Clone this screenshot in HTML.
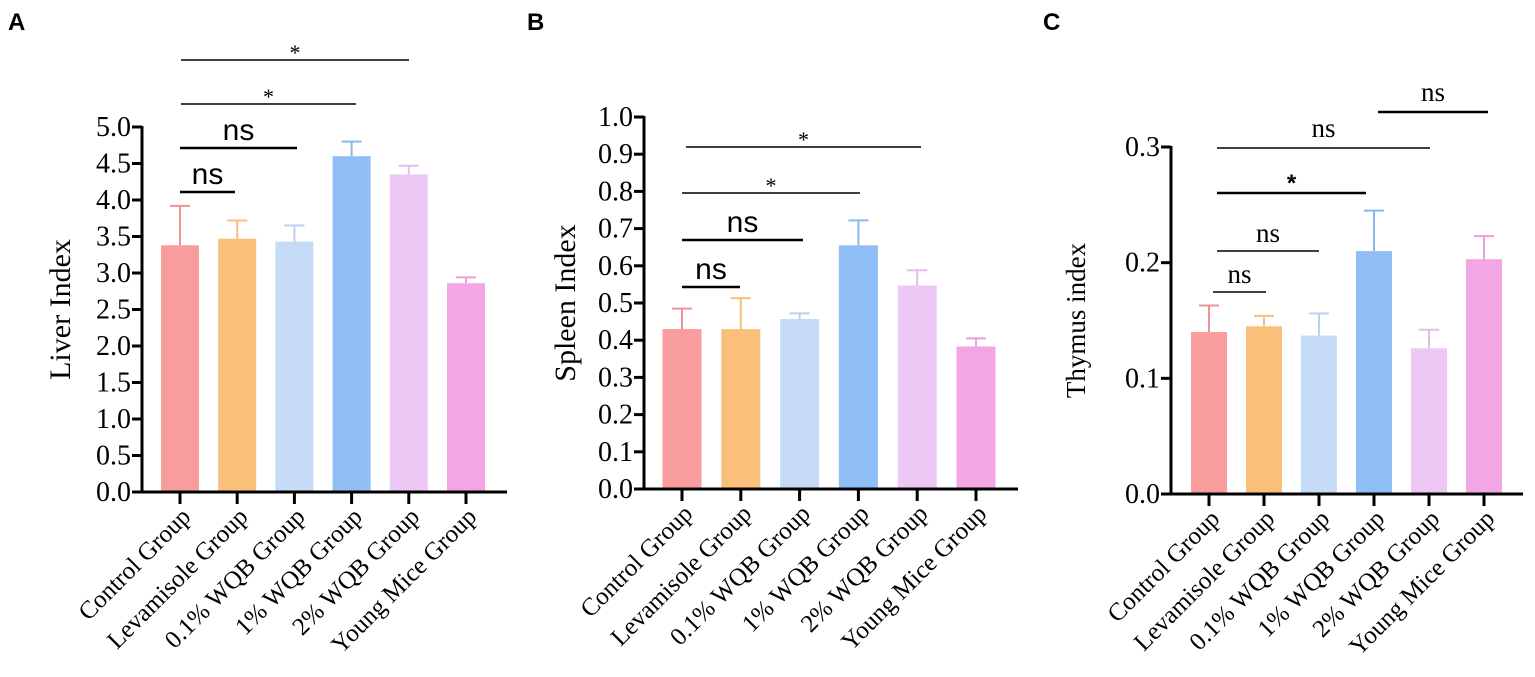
<!DOCTYPE html>
<html><head><meta charset="utf-8"><style>
body{margin:0;background:#fff;}
svg{display:block;font-family:"Liberation Serif",serif;}
</style></head><body>
<svg id="fig" width="1535" height="677" viewBox="0 0 1535 677">
<text x="8" y="30" font-family="Liberation Sans,sans-serif" font-weight="bold" font-size="24">A</text>
<text x="527" y="30" font-family="Liberation Sans,sans-serif" font-weight="bold" font-size="24">B</text>
<text x="1043" y="30" font-family="Liberation Sans,sans-serif" font-weight="bold" font-size="24">C</text>
</svg>
<script>
const categories = ["Control Group","Levamisole Group","0.1% WQB Group","1% WQB Group","2% WQB Group","Young Mice Group"];
const liverMeans = [3.38,3.47,3.43,4.60,4.35,2.86];
const liverErr = [0.54,0.25,0.22,0.20,0.12,0.08];
const liverTicks = ["0.0","0.5","1.0","1.5","2.0","2.5","3.0","3.5","4.0","4.5","5.0"];
const spleenMeans = [0.430,0.430,0.457,0.655,0.547,0.383];
const spleenErr = [0.055,0.083,0.015,0.067,0.041,0.022];
const spleenTicks = ["0.0","0.1","0.2","0.3","0.4","0.5","0.6","0.7","0.8","0.9","1.0"];
const thymusMeans = [0.140,0.145,0.137,0.210,0.126,0.203];
const thymusErr = [0.023,0.009,0.019,0.035,0.016,0.020];
const thymusTicks = ["0.0","0.1","0.2","0.3"];
const colors = ["#f99c9e","#fbbf7c","#c6dcf6","#8fbdf5","#edc8f4","#f2a6e3"];
const errColors = ["#ee9496","#f5c17f","#b9d2ef","#8ab8ee","#e2bde9","#e8a0d8"];

const NS="http://www.w3.org/2000/svg";
const svg=document.getElementById('fig');
function mk(tag,attrs,parent){const e=document.createElementNS(NS,tag);for(const k in attrs)e.setAttribute(k,attrs[k]);(parent||svg).appendChild(e);return e;}

function panel(cfg,means,errs,ticks,brackets){
  const g=mk('g',{});
  
  
  const ymax=parseFloat(ticks[ticks.length-1]);
  const y=v=>cfg.y0-(v/ymax)*(cfg.y0-cfg.y1);
  const x=i=>cfg.x0+i*cfg.step;
  means.forEach((m,i)=>{
    const e=mk('line',{x1:x(i),x2:x(i),y1:y(m),y2:y(m+errs[i]),stroke:errColors[i],'stroke-width':2},g);
    
    
    const c=mk('line',{x1:x(i)-10,x2:x(i)+10,y1:y(m+errs[i]),y2:y(m+errs[i]),stroke:errColors[i],'stroke-width':2},g);
    
    
    const r=mk('rect',{x:x(i)-cfg.bw/2,y:y(m),width:cfg.bw,height:cfg.y0-y(m),fill:colors[i]},g);
    
    
  });
  const ya=mk('line',{x1:cfg.ax,x2:cfg.ax,y1:cfg.y1-1,y2:cfg.y0+1.5,stroke:'#000','stroke-width':3},g);
  
  
  const xa=mk('line',{x1:cfg.ax-1.5,x2:cfg.xend,y1:cfg.y0,y2:cfg.y0,stroke:'#000','stroke-width':3},g);
  
  
  ticks.forEach(t=>{
    const v=parseFloat(t);
    const tk=mk('line',{x1:cfg.ax-10,x2:cfg.ax,y1:y(v),y2:y(v),stroke:'#000','stroke-width':3},g);
    
    
    const tl=mk('text',{x:cfg.ax-11,y:y(v)+9,'text-anchor':'end','font-size':28},g);
    tl.textContent=t;
    
    
  });
  categories.forEach((c,i)=>{
    const tk=mk('line',{x1:x(i),x2:x(i),y1:cfg.y0,y2:cfg.y0+12,stroke:'#000','stroke-width':3},g);
    
    
    const tx=x(i)+12, ty=cfg.y0+26;
    const tl=mk('text',{x:tx,y:ty,'text-anchor':'end','font-size':25,transform:`rotate(-45 ${tx} ${ty})`},g);
    tl.textContent=c;
    
    
  });
  const cy=(cfg.y0+cfg.y1)/2;
  const yt=mk('text',{x:cfg.titleX,y:cy,'text-anchor':'middle','font-size':cfg.titleSize,transform:`rotate(-90 ${cfg.titleX} ${cy})`},g);
  yt.textContent=cfg.title;
  
  
  brackets.forEach(b=>{
    const l=mk('line',{x1:b.a,x2:b.b,y1:b.y,y2:b.y,stroke:'#000','stroke-width':b.w},g);
    
    
    const t=mk('text',{x:(b.a+b.b)/2,y:b.y-b.off,'text-anchor':'middle','font-size':b.fs,'font-family':b.sans?'Liberation Sans,sans-serif':'Liberation Serif,serif','font-weight':b.bold?'bold':'normal'},g);
    t.textContent=b.t;
    
    
  });
}
panel({name:'liver-panel',x0:180,step:57.2,bw:38,ax:142,xend:507,y0:492,y1:127,title:'Liver Index',titleX:70,titleSize:30},liverMeans,liverErr,liverTicks,[
  {a:180,b:235,y:192,w:2.5,t:'ns',fs:30,off:8,sans:true},
  {a:180,b:297,y:148,w:2.5,t:'ns',fs:30,off:8,sans:true},
  {a:181,b:356,y:104,w:1.5,t:'*',fs:22,off:0},
  {a:181,b:409,y:60,w:1.5,t:'*',fs:22,off:0}
]);
panel({name:'spleen-panel',x0:682,step:58.8,bw:39,ax:644,xend:1018,y0:489,y1:117,title:'Spleen Index',titleX:575,titleSize:30},spleenMeans,spleenErr,spleenTicks,[
  {a:682,b:740,y:287,w:2.5,t:'ns',fs:30,off:8,sans:true},
  {a:682,b:803,y:240,w:2.5,t:'ns',fs:30,off:8,sans:true},
  {a:682,b:860,y:193,w:1.5,t:'*',fs:22,off:0},
  {a:686,b:921,y:147,w:1.5,t:'*',fs:22,off:0}
]);
panel({name:'thymus-panel',x0:1209,step:55,bw:36,ax:1171,xend:1523,y0:494,y1:147,title:'Thymus index',titleX:1085,titleSize:27},thymusMeans,thymusErr,thymusTicks,[
  {a:1213,b:1266,y:292,w:1.5,t:'ns',fs:27,off:9},
  {a:1217,b:1319,y:251,w:1.5,t:'ns',fs:27,off:9},
  {a:1217,b:1366,y:193,w:2.5,t:'*',fs:24,off:2,bold:true,sans:true},
  {a:1217,b:1430,y:148,w:1.5,t:'ns',fs:27,off:11},
  {a:1378,b:1488,y:112,w:2.5,t:'ns',fs:27,off:11}
]);
</script>
</body></html>
